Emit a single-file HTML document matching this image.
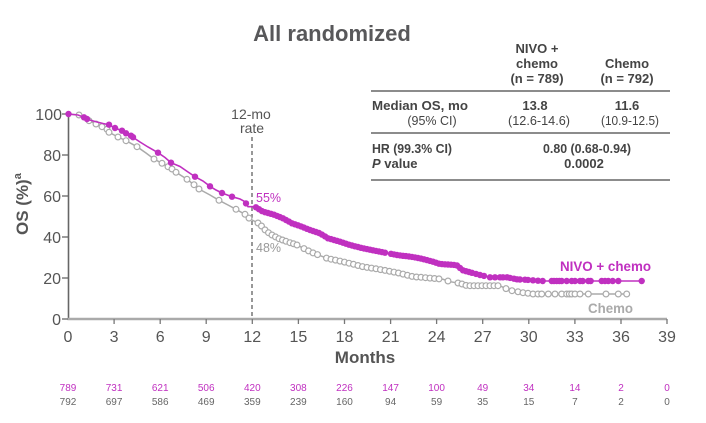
<!DOCTYPE html>
<html>
<head>
<meta charset="utf-8">
<style>
  html,body{margin:0;padding:0;background:#fff;}
  svg{display:block;}
  text{font-family:"Liberation Sans",Arial,sans-serif;}
</style>
</head>
<body>
<svg xmlns="http://www.w3.org/2000/svg" width="706" height="423" viewBox="0 0 706 423">
  <rect width="706" height="423" fill="#fff"/>

  <!-- Title -->
  <text x="332" y="41" text-anchor="middle" font-size="22" font-weight="bold" fill="#58585a">All randomized</text>

  <!-- Table -->
  <g fill="#444" font-size="13">
    <text x="537" y="53" text-anchor="middle" font-weight="bold">NIVO +</text>
    <text x="537" y="68" text-anchor="middle" font-weight="bold">chemo</text>
    <text x="537" y="83" text-anchor="middle" font-weight="bold">(n = 789)</text>
    <text x="627" y="68" text-anchor="middle" font-weight="bold">Chemo</text>
    <text x="627" y="83" text-anchor="middle" font-weight="bold">(n = 792)</text>

    <text x="372" y="110" font-weight="bold" textLength="96" lengthAdjust="spacingAndGlyphs">Median OS, mo</text>
    <text x="535" y="110" text-anchor="middle" font-weight="bold">13.8</text>
    <text x="627" y="110" text-anchor="middle" font-weight="bold">11.6</text>

    <text x="432" y="125" text-anchor="middle" font-size="12.5">(95% CI)</text>
    <text x="539" y="125" text-anchor="middle" font-size="12.5" textLength="62" lengthAdjust="spacingAndGlyphs">(12.6-14.6)</text>
    <text x="630" y="125" text-anchor="middle" font-size="12.5" textLength="58" lengthAdjust="spacingAndGlyphs">(10.9-12.5)</text>

    <text x="372" y="153" font-weight="bold" textLength="80" lengthAdjust="spacingAndGlyphs">HR (99.3% CI)</text>
    <text x="587" y="153" text-anchor="middle" font-weight="bold" textLength="88" lengthAdjust="spacingAndGlyphs">0.80 (0.68-0.94)</text>

    <text x="372" y="168" font-weight="bold"><tspan font-style="italic">P</tspan> value</text>
    <text x="584" y="168" text-anchor="middle" font-weight="bold">0.0002</text>
  </g>
  <g stroke="#666" stroke-width="1.5">
    <line x1="371" y1="91" x2="670" y2="91"/>
    <line x1="371" y1="133" x2="670" y2="133"/>
    <line x1="371" y1="180" x2="670" y2="180"/>
  </g>

  <!-- 12-mo rate -->
  <text x="251" y="119" text-anchor="middle" font-size="14" fill="#555">12-mo</text>
  <text x="252" y="133" text-anchor="middle" font-size="14" fill="#555">rate</text>
  <line x1="252" y1="137" x2="252" y2="318" stroke="#777" stroke-width="1.5" stroke-dasharray="4,3"/>

  <!-- Axes -->
  <line x1="68.5" y1="113" x2="68.5" y2="319" stroke="#666" stroke-width="1.6"/>
  <line x1="67.5" y1="319" x2="667" y2="319" stroke="#aaa" stroke-width="2.4"/>
  <g stroke="#666" stroke-width="1.3">
    <line x1="62" y1="114" x2="68" y2="114"/>
    <line x1="62" y1="155" x2="68" y2="155"/>
    <line x1="62" y1="196" x2="68" y2="196"/>
    <line x1="62" y1="237" x2="68" y2="237"/>
    <line x1="62" y1="278" x2="68" y2="278"/>
    <line x1="62" y1="319" x2="68" y2="319"/>
  </g>
  <g stroke="#777" stroke-width="1.3">
    <line x1="114.1" y1="319" x2="114.1" y2="324"/>
    <line x1="160.2" y1="319" x2="160.2" y2="324"/>
    <line x1="206.2" y1="319" x2="206.2" y2="324"/>
    <line x1="252.3" y1="319" x2="252.3" y2="324"/>
    <line x1="298.4" y1="319" x2="298.4" y2="324"/>
    <line x1="344.5" y1="319" x2="344.5" y2="324"/>
    <line x1="390.6" y1="319" x2="390.6" y2="324"/>
    <line x1="436.6" y1="319" x2="436.6" y2="324"/>
    <line x1="482.7" y1="319" x2="482.7" y2="324"/>
    <line x1="528.8" y1="319" x2="528.8" y2="324"/>
    <line x1="574.9" y1="319" x2="574.9" y2="324"/>
    <line x1="621" y1="319" x2="621" y2="324"/>
    <line x1="667" y1="319" x2="667" y2="324"/>
  </g>

  <!-- Y tick labels -->
  <g font-size="16" fill="#555" text-anchor="end">
    <text x="62" y="120">100</text>
    <text x="61" y="161">80</text>
    <text x="61" y="202">60</text>
    <text x="61" y="243">40</text>
    <text x="61" y="284">20</text>
    <text x="61" y="325">0</text>
  </g>
  <!-- X tick labels -->
  <g font-size="16" fill="#555" text-anchor="middle">
    <text x="68" y="342">0</text>
    <text x="114.1" y="342">3</text>
    <text x="160.2" y="342">6</text>
    <text x="206.2" y="342">9</text>
    <text x="252.3" y="342">12</text>
    <text x="298.4" y="342">15</text>
    <text x="344.5" y="342">18</text>
    <text x="390.6" y="342">21</text>
    <text x="436.6" y="342">24</text>
    <text x="482.7" y="342">27</text>
    <text x="528.8" y="342">30</text>
    <text x="574.9" y="342">33</text>
    <text x="621" y="342">36</text>
    <text x="667" y="342">39</text>
  </g>

  <!-- Axis titles -->
  <text transform="translate(28,235) rotate(-90)" font-size="17" font-weight="bold" fill="#555">OS (%)<tspan font-size="11" dy="-7">a</tspan></text>
  <text x="365" y="363" text-anchor="middle" font-size="17" font-weight="bold" fill="#555">Months</text>

  <!-- Chemo curve -->
  <polyline fill="none" stroke="#aaa" stroke-width="1.5" points="68,114 79,115 89,120.7 96,124 102,126.7 107,129.3 109,132.3 118,137 126,140.7 137,146.7 146,153 154,159 162,163.3 168,166.7 172,169 176,172.3 187,179.3 194,184.7 199,189 210,195 219,200.3 228,205 236,209.3 245,214.3 250,219 255,221.5 260,224 263,228 267,231.7 272,235 278,238.3 287,241.7 297,245 310,251.7 327,258.3 343,261.7 363,266.7 383,270 400,273.3 413,276.7 433,278.3 443,279.3 450,281.7 460,283.3 467,285.7 500,285.7 505,288.3 512,290.7 523,292.7 533,294 628,294"/>
  <g fill="#fff" stroke="#aaa" stroke-width="1.2">
    <circle cx="79" cy="115" r="2.9"/><circle cx="89" cy="120.7" r="2.9"/><circle cx="96" cy="124" r="2.9"/>
    <circle cx="102" cy="126.7" r="2.9"/><circle cx="107" cy="129.3" r="2.9"/><circle cx="109" cy="132.3" r="2.9"/>
    <circle cx="118" cy="137" r="2.9"/><circle cx="126" cy="140.7" r="2.9"/><circle cx="137" cy="146.7" r="2.9"/>
    <circle cx="154" cy="159" r="2.9"/><circle cx="162" cy="163.3" r="2.9"/><circle cx="168" cy="166.7" r="2.9"/>
    <circle cx="172" cy="169" r="2.9"/><circle cx="176" cy="172.3" r="2.9"/><circle cx="187" cy="179.3" r="2.9"/>
    <circle cx="194" cy="184.7" r="2.9"/><circle cx="199" cy="189" r="2.9"/><circle cx="219" cy="200.3" r="2.9"/>
    <circle cx="236" cy="209.3" r="2.9"/><circle cx="245" cy="214.3" r="2.9"/><circle cx="249" cy="218.1" r="2.9"/>
    <circle cx="258" cy="223" r="2.9"/><circle cx="261.5" cy="226" r="2.9"/><circle cx="265" cy="229.9" r="2.9"/>
    <circle cx="268.5" cy="232.7" r="2.9"/><circle cx="272" cy="235" r="2.9"/><circle cx="275.5" cy="236.9" r="2.9"/>
    <circle cx="279" cy="238.7" r="2.9"/><circle cx="282.5" cy="240" r="2.9"/><circle cx="286" cy="241.3" r="2.9"/>
    <circle cx="290" cy="242.7" r="2.9"/><circle cx="293.5" cy="243.8" r="2.9"/><circle cx="297" cy="245" r="2.9"/>
    <circle cx="304" cy="248.6" r="2.9"/><circle cx="308.5" cy="250.9" r="2.9"/><circle cx="313" cy="252.9" r="2.9"/>
    <circle cx="317.5" cy="254.6" r="2.9"/><circle cx="326.5" cy="258.1" r="2.9"/><circle cx="331" cy="259.2" r="2.9"/>
    <circle cx="335.5" cy="260.1" r="2.9"/><circle cx="340" cy="261.1" r="2.9"/><circle cx="344.5" cy="262.1" r="2.9"/>
    <circle cx="349" cy="263.2" r="2.9"/><circle cx="353.5" cy="264.3" r="2.9"/><circle cx="358" cy="265.5" r="2.9"/>
    <circle cx="362.5" cy="266.6" r="2.9"/><circle cx="367" cy="267.4" r="2.9"/><circle cx="371.5" cy="268.1" r="2.9"/>
    <circle cx="376" cy="268.8" r="2.9"/><circle cx="380.5" cy="269.6" r="2.9"/><circle cx="385" cy="270.4" r="2.9"/>
    <circle cx="389.5" cy="271.3" r="2.9"/><circle cx="394" cy="272.1" r="2.9"/><circle cx="398.5" cy="273" r="2.9"/>
    <circle cx="403" cy="274.1" r="2.9"/><circle cx="407.5" cy="275.3" r="2.9"/><circle cx="412" cy="276.4" r="2.9"/>
    <circle cx="416.5" cy="277" r="2.9"/><circle cx="421" cy="277.3" r="2.9"/><circle cx="425.5" cy="277.7" r="2.9"/>
    <circle cx="430" cy="278.1" r="2.9"/><circle cx="434.5" cy="278.5" r="2.9"/><circle cx="439" cy="278.9" r="2.9"/>
    <circle cx="448" cy="281" r="2.9"/><circle cx="458" cy="283" r="2.9"/><circle cx="462" cy="284" r="2.9"/>
    <circle cx="466" cy="285.4" r="2.9"/><circle cx="470" cy="285.7" r="2.9"/><circle cx="474" cy="285.7" r="2.9"/>
    <circle cx="478" cy="285.7" r="2.9"/><circle cx="482" cy="285.7" r="2.9"/><circle cx="486" cy="285.7" r="2.9"/>
    <circle cx="490" cy="285.7" r="2.9"/><circle cx="494" cy="285.7" r="2.9"/><circle cx="498" cy="285.7" r="2.9"/>
    <circle cx="506" cy="288.6" r="2.9"/><circle cx="512" cy="290.7" r="2.9"/><circle cx="518" cy="291.8" r="2.9"/>
    <circle cx="523" cy="292.7" r="2.9"/><circle cx="528" cy="293.3" r="2.9"/><circle cx="533" cy="294" r="2.9"/>
    <circle cx="538" cy="294" r="2.9"/><circle cx="541.7" cy="294" r="2.9"/><circle cx="548.3" cy="294" r="2.9"/>
    <circle cx="555" cy="294" r="2.9"/><circle cx="561.7" cy="294" r="2.9"/><circle cx="566.7" cy="294" r="2.9"/>
    <circle cx="569.3" cy="294" r="2.9"/><circle cx="571.7" cy="294" r="2.9"/><circle cx="575" cy="294" r="2.9"/>
    <circle cx="580" cy="294" r="2.9"/><circle cx="588.3" cy="294" r="2.9"/><circle cx="606" cy="294" r="2.9"/>
    <circle cx="618.3" cy="294" r="2.9"/><circle cx="626.7" cy="294" r="2.9"/>
  </g>

  <!-- NIVO + chemo curve -->
  <polyline fill="none" stroke="#c030c0" stroke-width="1.6" points="68,114 78,115 84,117.3 88,119.5 95,121.5 103,123.5 109,124.7 115,128 122,130.7 126,133.3 131,135.7 134,138 140,142 148,147 158,152.7 165,157.5 171,162.7 180,166.5 188,172 195,176.7 203,181 210,186.3 216,190 222,193 232,196.7 240,199 245,201.7 248,206.7 255,206.7 263,211.7 273,214.3 283,218.3 292,223.3 300,226 310,230 320,233.3 328,238.3 340,241.7 350,245 363,248.3 380,251.7 397,255 413,257 423,259 433,261.7 440,264 456,265 458,266 462,270 470,272.3 480,275 490,277.3 507,277.3 517,279.3 530,280 542,281 642,281"/>
  <g fill="#c030c0">
    <circle cx="68.5" cy="114" r="3.2"/><circle cx="84" cy="117.3" r="3.2"/><circle cx="87" cy="119" r="3.2"/>
    <circle cx="109" cy="124.7" r="3.2"/><circle cx="115" cy="128" r="3.2"/><circle cx="122" cy="130.7" r="3.2"/>
    <circle cx="126" cy="133.3" r="3.2"/><circle cx="131" cy="135.7" r="3.2"/><circle cx="133" cy="137.2" r="3.2"/>
    <circle cx="158" cy="152.7" r="3.2"/><circle cx="171" cy="162.7" r="3.2"/><circle cx="195" cy="176.7" r="3.2"/>
    <circle cx="210" cy="186.3" r="3.2"/><circle cx="222" cy="193" r="3.2"/><circle cx="232" cy="196.7" r="3.2"/>
    <circle cx="246" cy="203.4" r="3.2"/><circle cx="256" cy="207.3" r="3.2"/>
    <circle cx="259" cy="209.2" r="3.2"/><circle cx="262" cy="211.1" r="3.2"/><circle cx="265" cy="212.2" r="3.2"/>
    <circle cx="268" cy="213" r="3.2"/><circle cx="271" cy="213.8" r="3.2"/><circle cx="274" cy="214.7" r="3.2"/>
    <circle cx="277" cy="215.9" r="3.2"/><circle cx="280" cy="217.1" r="3.2"/><circle cx="283" cy="218.3" r="3.2"/>
    <circle cx="286" cy="220" r="3.2"/><circle cx="289" cy="221.6" r="3.2"/><circle cx="292" cy="223.3" r="3.2"/>
    <circle cx="295" cy="224.3" r="3.2"/><circle cx="298" cy="225.3" r="3.2"/><circle cx="301" cy="226.4" r="3.2"/>
    <circle cx="304" cy="227.6" r="3.2"/><circle cx="307" cy="228.8" r="3.2"/><circle cx="310" cy="230" r="3.2"/>
    <circle cx="313" cy="231" r="3.2"/><circle cx="316" cy="232" r="3.2"/><circle cx="319" cy="233" r="3.2"/>
    <circle cx="322" cy="234.6" r="3.2"/><circle cx="325" cy="236.4" r="3.2"/><circle cx="328" cy="238.3" r="3.2"/>
    <circle cx="331" cy="239.1" r="3.2"/><circle cx="334" cy="240" r="3.2"/><circle cx="337" cy="240.8" r="3.2"/>
    <circle cx="340" cy="241.7" r="3.2"/><circle cx="343" cy="242.7" r="3.2"/><circle cx="346" cy="243.7" r="3.2"/>
    <circle cx="349" cy="244.7" r="3.2"/><circle cx="352" cy="245.5" r="3.2"/><circle cx="355" cy="246.3" r="3.2"/>
    <circle cx="358" cy="247" r="3.2"/><circle cx="361" cy="247.8" r="3.2"/><circle cx="364" cy="248.5" r="3.2"/>
    <circle cx="367" cy="249.1" r="3.2"/><circle cx="370" cy="249.7" r="3.2"/><circle cx="373" cy="250.3" r="3.2"/>
    <circle cx="376" cy="250.9" r="3.2"/><circle cx="379" cy="251.5" r="3.2"/><circle cx="382" cy="252.1" r="3.2"/>
    <circle cx="385" cy="252.7" r="3.2"/><circle cx="391" cy="253.8" r="3.2"/><circle cx="394" cy="254.4" r="3.2"/>
    <circle cx="397" cy="255" r="3.2"/><circle cx="400" cy="255.4" r="3.2"/><circle cx="403" cy="255.8" r="3.2"/>
    <circle cx="406" cy="256.1" r="3.2"/><circle cx="409" cy="256.5" r="3.2"/><circle cx="412" cy="256.9" r="3.2"/>
    <circle cx="415" cy="257.4" r="3.2"/><circle cx="418" cy="258" r="3.2"/><circle cx="421" cy="258.6" r="3.2"/>
    <circle cx="424" cy="259.3" r="3.2"/><circle cx="427" cy="260.1" r="3.2"/><circle cx="430" cy="260.9" r="3.2"/>
    <circle cx="433" cy="261.7" r="3.2"/><circle cx="436" cy="262.7" r="3.2"/><circle cx="439" cy="263.7" r="3.2"/>
    <circle cx="442" cy="264.1" r="3.2"/><circle cx="445" cy="264.3" r="3.2"/><circle cx="448" cy="264.5" r="3.2"/>
    <circle cx="451" cy="264.7" r="3.2"/><circle cx="454" cy="264.9" r="3.2"/><circle cx="457" cy="265.5" r="3.2"/>
    <circle cx="460" cy="268" r="3.2"/><circle cx="463" cy="270.3" r="3.2"/><circle cx="466" cy="271.2" r="3.2"/>
    <circle cx="469" cy="272" r="3.2"/><circle cx="472" cy="272.8" r="3.2"/><circle cx="476" cy="273.9" r="3.2"/>
    <circle cx="480" cy="275" r="3.2"/><circle cx="484" cy="275.9" r="3.2"/><circle cx="490" cy="277.3" r="3.2"/>
    <circle cx="495" cy="277.3" r="3.2"/><circle cx="500" cy="277.3" r="3.2"/><circle cx="503" cy="277.3" r="3.2"/>
    <circle cx="507" cy="277.3" r="3.2"/><circle cx="510" cy="277.9" r="3.2"/><circle cx="514" cy="278.7" r="3.2"/>
    <circle cx="517" cy="279.3" r="3.2"/><circle cx="520" cy="279.5" r="3.2"/><circle cx="525" cy="279.7" r="3.2"/>
    <circle cx="528" cy="279.9" r="3.2"/><circle cx="533" cy="280.3" r="3.2"/><circle cx="538" cy="280.7" r="3.2"/>
    <circle cx="542.7" cy="281" r="3.2"/><circle cx="551.7" cy="281" r="3.2"/><circle cx="554" cy="281" r="3.2"/>
    <circle cx="556.7" cy="281" r="3.2"/><circle cx="559.3" cy="281" r="3.2"/><circle cx="561.7" cy="281" r="3.2"/>
    <circle cx="566.7" cy="281" r="3.2"/><circle cx="571.7" cy="281" r="3.2"/><circle cx="575" cy="281" r="3.2"/>
    <circle cx="580" cy="281" r="3.2"/><circle cx="582.7" cy="281" r="3.2"/><circle cx="588.3" cy="281" r="3.2"/>
    <circle cx="590.7" cy="281" r="3.2"/><circle cx="601.7" cy="281" r="3.2"/><circle cx="605" cy="281" r="3.2"/>
    <circle cx="608.3" cy="281" r="3.2"/><circle cx="612.7" cy="281" r="3.2"/><circle cx="618.3" cy="281" r="3.2"/>
    <circle cx="641.7" cy="281" r="3.2"/>
  </g>

  <!-- Labels on plot -->
  <text x="256" y="202" font-size="12.5" fill="#c030c0">55%</text>
  <text x="256" y="252" font-size="12.5" fill="#999">48%</text>
  <text x="560" y="271" font-size="14" font-weight="bold" fill="#c030c0" textLength="91" lengthAdjust="spacingAndGlyphs">NIVO + chemo</text>
  <text x="588" y="313" font-size="14" font-weight="bold" fill="#aaa" textLength="45" lengthAdjust="spacingAndGlyphs">Chemo</text>

  <!-- Risk table -->
  <g font-size="10" text-anchor="middle" fill="#c030c0">
    <text x="68" y="391">789</text>
    <text x="114.1" y="391">731</text>
    <text x="160.2" y="391">621</text>
    <text x="206.2" y="391">506</text>
    <text x="252.3" y="391">420</text>
    <text x="298.4" y="391">308</text>
    <text x="344.5" y="391">226</text>
    <text x="390.6" y="391">147</text>
    <text x="436.6" y="391">100</text>
    <text x="482.7" y="391">49</text>
    <text x="528.8" y="391">34</text>
    <text x="574.9" y="391">14</text>
    <text x="621" y="391">2</text>
    <text x="667" y="391">0</text>
  </g>
  <g font-size="10" text-anchor="middle" fill="#666">
    <text x="68" y="405">792</text>
    <text x="114.1" y="405">697</text>
    <text x="160.2" y="405">586</text>
    <text x="206.2" y="405">469</text>
    <text x="252.3" y="405">359</text>
    <text x="298.4" y="405">239</text>
    <text x="344.5" y="405">160</text>
    <text x="390.6" y="405">94</text>
    <text x="436.6" y="405">59</text>
    <text x="482.7" y="405">35</text>
    <text x="528.8" y="405">15</text>
    <text x="574.9" y="405">7</text>
    <text x="621" y="405">2</text>
    <text x="667" y="405">0</text>
  </g>
</svg>
</body>
</html>
